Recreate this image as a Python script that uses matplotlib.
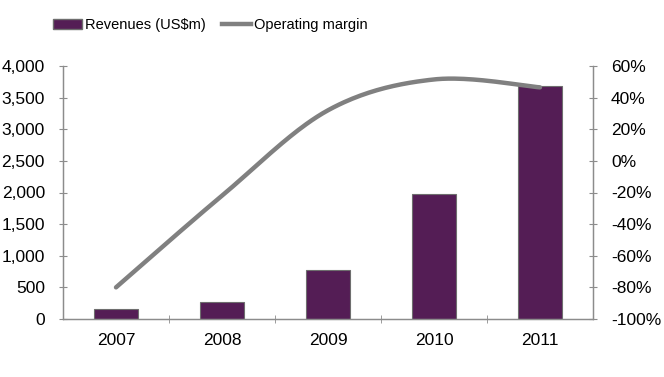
import numpy as np
import matplotlib
matplotlib.use("Agg")
import matplotlib.pyplot as plt
from matplotlib.patches import Patch
from matplotlib.lines import Line2D
from matplotlib.ticker import FuncFormatter, FixedLocator

plt.rcParams['font.family'] = ['Liberation Sans', 'DejaVu Sans']

years = ['2007', '2008', '2009', '2010', '2011']
revenues = [160, 275, 780, 1970, 3690]
op_margin = [-80, -22, 32, 51.5, 46.5]

bar_color = '#541D55'
line_color = '#808080'
axis_color = '#8C8C8C'

fig = plt.figure(figsize=(6.64, 3.77), dpi=100)
ax = fig.add_axes([63/664, 1-319/377, (593-63)/664, (319-66)/377])
ax2 = ax.twinx()

x = np.arange(len(years))
ax.bar(x, revenues, width=0.41, color=bar_color, edgecolor='#6E6E6E', linewidth=0.8, zorder=2)
ax.set_xlim(-0.5, len(years) - 0.5)
ax.set_ylim(0, 4000)
ax.set_yticks(np.arange(0, 4001, 500))
ax.yaxis.set_major_formatter(FuncFormatter(lambda v, p: f"{int(v):,}"))
ax.set_xticks(x)
ax.set_xticklabels(years)
ax.xaxis.set_minor_locator(FixedLocator(np.arange(0.5, len(years) - 1, 1.0)))
ax.tick_params(axis='x', which='major', length=0, pad=10, labelsize=12.5)
ax.tick_params(axis='x', which='minor', length=6, direction='inout', color=axis_color)
ax.tick_params(axis='y', length=6, direction='inout', color=axis_color, labelsize=12.5, pad=10)

# Smoothed line (Bezier smoothing through the data points, like Excel)
px = np.array(x, dtype=float)
py = np.array(op_margin, dtype=float)
P = np.column_stack([px, py])
Pext = np.vstack([P[0], P, P[-1]])
curve = []
for i in range(1, len(Pext) - 2):
    p0, p1, p2, p3 = Pext[i-1], Pext[i], Pext[i+1], Pext[i+2]
    c1 = p1 + (p2 - p0) / 6
    c2 = p2 - (p3 - p1) / 6
    t = np.linspace(0, 1, 40)[:, None]
    seg = (1-t)**3 * p1 + 3*(1-t)**2*t*c1 + 3*(1-t)*t**2*c2 + t**3*p2
    curve.append(seg)
curve = np.vstack(curve)
ax2.plot(curve[:, 0], curve[:, 1], color=line_color, linewidth=3.2, solid_capstyle='round', zorder=3)
ax2.set_ylim(-100, 60)
ax2.set_yticks(np.arange(-100, 61, 20))
ax2.yaxis.set_major_formatter(FuncFormatter(lambda v, p: f"{int(v)}%"))
ax2.tick_params(axis='y', length=6, direction='inout', color=axis_color, labelsize=12.5, pad=10)

for a in (ax, ax2):
    a.spines['top'].set_visible(False)
    for s in ('left', 'right', 'bottom'):
        a.spines[s].set_color(axis_color)
        a.spines[s].set_linewidth(0.9)

handles = [Patch(facecolor=bar_color, edgecolor='#6E6E6E', label='Revenues (US$m)'),
           Line2D([0], [0], color=line_color, linewidth=3.2, label='Operating margin')]
fig.legend(handles=handles, loc='center left', bbox_to_anchor=(50/664, 1-25/377), ncol=2,
           frameon=False, fontsize=10.5, handlelength=2.0, handletextpad=0.2,
           columnspacing=1.1, borderpad=0.2, borderaxespad=0)

fig.savefig('out.png', dpi=100)
